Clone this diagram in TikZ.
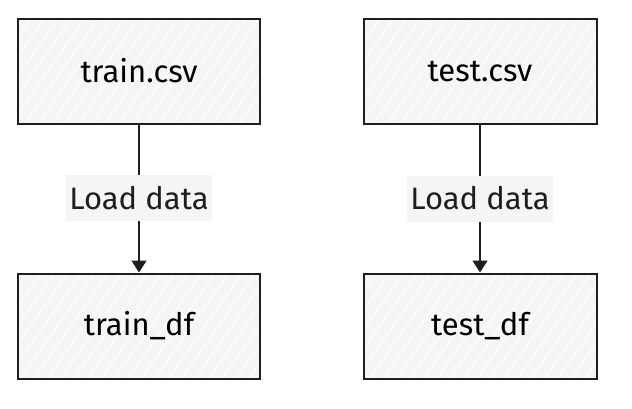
\documentclass[tikz,border=0pt]{standalone}
\usepackage{fontspec}
\setmainfont{Fira Sans}
\usetikzlibrary{patterns.meta,arrows.meta}
\definecolor{ink}{HTML}{1E1E1E}
\definecolor{boxfill}{HTML}{F5F5F5}
\tikzset{
  filebox/.style={draw=ink,line width=2pt,preaction={fill=boxfill},
    pattern={Lines[angle=55,distance=11pt,line width=1pt]},pattern color=white,
    minimum width=242pt,minimum height=105pt,font=\fontsize{31}{34}\selectfont},
  loadlbl/.style={fill=boxfill,inner sep=3pt,minimum width=142pt,minimum height=46pt,
    font=\fontsize{31}{34}\selectfont}
}

\begin{document}
\begin{tikzpicture}[x=1pt,y=-1pt]
      \useasboundingbox (0,0) rectangle (632,408);
      \node[filebox] (trcsv) at (139,71) {train.csv};
      \node[filebox,minimum width=233pt] (tecsv) at (480,71) {test.csv};
      \node[filebox] (trdf) at (139,326) {train\_df};
      \node[filebox,minimum width=233pt] (tedf) at (480,326) {test\_df};

      \draw[ink,line width=1.5pt,-{Triangle[length=12pt,width=15pt]}] (trcsv) -- (trdf)
        node[midway,loadlbl] (trload) {Load data};
      \draw[ink,line width=1.5pt,-{Triangle[length=12pt,width=15pt]}] (tecsv) -- (tedf)
        node[midway,loadlbl] (teload) {Load data};
\end{tikzpicture}
\end{document}
